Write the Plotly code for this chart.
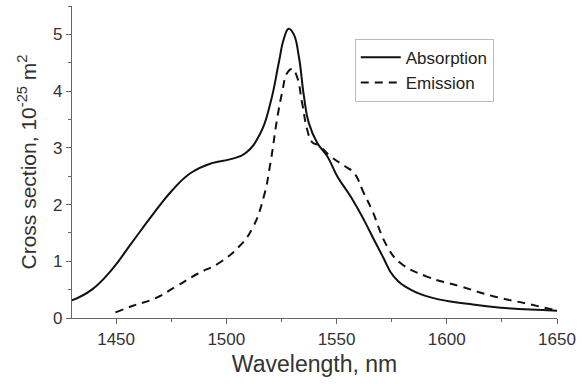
import plotly.graph_objects as go

abs_wl = [1430, 1439, 1448, 1457, 1466, 1475, 1484, 1493.5, 1502, 1508.8, 1515.5, 1520, 1523.8, 1526, 1528.3, 1530.6,
          1532.9, 1535.2, 1537.4, 1541.2, 1545.8, 1550.3, 1556.4, 1562.4, 1567, 1571, 1576, 1583.6, 1594, 1609.4, 1624.5, 1650]
abs_val = [0.31, 0.5, 0.85, 1.32, 1.79, 2.23, 2.56, 2.73, 2.80, 2.91, 3.26, 3.79, 4.5, 4.91, 5.1, 5.0,
           4.61, 3.91, 3.44, 3.09, 2.85, 2.5, 2.14, 1.73, 1.38, 1.08, 0.73, 0.5, 0.35, 0.25, 0.18, 0.13]

em_wl = [1449.7, 1458, 1467.9, 1477, 1487, 1496.7, 1505.8, 1511.8, 1517, 1520, 1523, 1525.3, 1527.6, 1529.9, 1532,
         1534.4, 1536.7, 1538.9, 1542, 1547.3, 1554, 1557.9, 1562.4, 1566, 1573, 1579, 1591, 1606, 1621.5, 1636.7, 1650]
em_val = [0.1, 0.22, 0.35, 0.55, 0.78, 0.97, 1.26, 1.58, 2.14, 2.73, 3.5, 3.97, 4.32, 4.39, 4.26,
          3.79, 3.32, 3.1, 3.04, 2.85, 2.67, 2.56, 2.2, 1.91, 1.26, 0.97, 0.73, 0.56, 0.38, 0.25, 0.13]

x_ticks = [1450, 1500, 1550, 1600, 1650]
y_ticks = [0, 1, 2, 3, 4, 5]

FONT = "Liberation Sans, Arial"
fig = go.Figure()
fig.add_trace(go.Scatter(x=abs_wl, y=abs_val, mode="lines", name="Absorption",
                         line=dict(color="#111111", width=2, shape="spline", smoothing=1.3)))
fig.add_trace(go.Scatter(x=em_wl, y=em_val, mode="lines", name="Emission",
                         line=dict(color="#111111", width=2, dash="8px,6px", shape="spline", smoothing=1.3)))

axis_common = dict(showline=True, linecolor="#666666", linewidth=1.2, ticks="outside",
                   tickcolor="#666666", ticklen=5, tickwidth=1, showgrid=False, zeroline=False,
                   tickfont=dict(family=FONT, size=17, color="#333333"),
                   minor=dict(ticks="outside", ticklen=3, tickcolor="#666666"))

fig.update_xaxes(range=[1430, 1650], tickvals=x_ticks, minor_dtick=25,
                 title=dict(text="Wavelength, nm", font=dict(family=FONT, size=23, color="#333333"), standoff=8),
                 **axis_common)
fig.update_yaxes(range=[0, 5.5], tickvals=y_ticks, minor_dtick=0.5,
                 title=dict(text="Cross section, 10<sup>-25</sup> m<sup>2</sup>", font=dict(family=FONT, size=21, color="#333333"), standoff=10),
                 **axis_common)

fig.update_layout(
    width=582, height=384,
    margin=dict(l=72, r=25, t=6, b=66),
    plot_bgcolor="white", paper_bgcolor="white",
    legend=dict(x=0.583, y=0.895, xanchor="left", yanchor="top",
                bordercolor="#bbbbbb", borderwidth=1, bgcolor="white",
                font=dict(family=FONT, size=17, color="#222222"),
                tracegroupgap=0, itemwidth=40),
)

fig.write_html("out.html")
